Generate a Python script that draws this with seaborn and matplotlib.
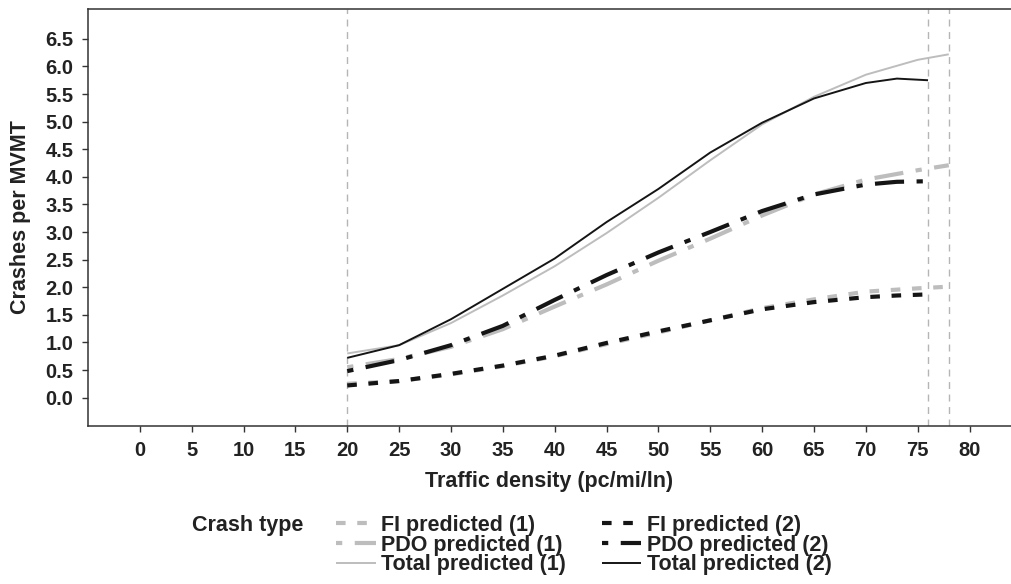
import numpy as np
import pandas as pd
import matplotlib
matplotlib.use('Agg')
import matplotlib.pyplot as plt
import seaborn as sns

sns.set_style('white')
plt.rcParams['font.family'] = ['Liberation Sans', 'DejaVu Sans']
plt.rcParams['font.weight'] = 'bold'

# ---- data -------------------------------------------------------------
x_1 = [20, 25, 30, 35, 40, 45, 50, 55, 60, 65, 70, 75, 78]
x_2 = [20, 25, 30, 35, 40, 45, 50, 55, 60, 65, 70, 73, 76]

fi_1 = [0.25, 0.30, 0.42, 0.57, 0.75, 0.97, 1.18, 1.40, 1.62, 1.78, 1.92, 1.98, 2.01]
pdo_1 = [0.55, 0.70, 0.92, 1.24, 1.65, 2.05, 2.48, 2.88, 3.30, 3.68, 3.95, 4.12, 4.21]
total_1 = [0.80, 0.95, 1.35, 1.85, 2.38, 2.98, 3.62, 4.30, 4.95, 5.45, 5.85, 6.12, 6.22]

fi_2 = [0.22, 0.30, 0.43, 0.58, 0.76, 0.99, 1.20, 1.40, 1.60, 1.73, 1.82, 1.85, 1.87]
pdo_2 = [0.48, 0.68, 0.95, 1.30, 1.77, 2.22, 2.63, 3.00, 3.38, 3.68, 3.86, 3.91, 3.92]
total_2 = [0.72, 0.95, 1.42, 1.97, 2.52, 3.18, 3.78, 4.44, 4.98, 5.42, 5.70, 5.78, 5.75]

vlines = [20, 76, 78]
x_ticks = list(range(0, 85, 5))
y_ticks = [i * 0.5 for i in range(14)]

GRAY = '#bdbdbd'
BLACK = '#151515'
FI_LS = (0, (2.3, 2.8))
PDO_LS = (0, (1.5, 3.0, 7.0, 3.0))

series = [
    ('FI predicted (1)', x_1, fi_1, GRAY, 3.0, FI_LS),
    ('PDO predicted (1)', x_1, pdo_1, GRAY, 3.0, PDO_LS),
    ('Total predicted (1)', x_1, total_1, GRAY, 1.4, '-'),
    ('FI predicted (2)', x_2, fi_2, BLACK, 3.0, FI_LS),
    ('PDO predicted (2)', x_2, pdo_2, BLACK, 3.0, PDO_LS),
    ('Total predicted (2)', x_2, total_2, BLACK, 1.4, '-'),
]

fig = plt.figure(figsize=(10.11, 5.84), dpi=100)
ax = fig.add_axes([0.087, 0.2705, 0.913, 0.714])

for xv in vlines:
    ax.axvline(xv, color='#b5b5b5', lw=1.0, ls=(0, (5, 4)), zorder=1)

for label, xs, ys, col, lw, ls in series:
    df = pd.DataFrame({'density': xs, 'rate': ys})
    sns.lineplot(data=df, x='density', y='rate', ax=ax, color=col, lw=lw,
                 linestyle=ls, label=label, estimator=None, legend=False,
                 solid_capstyle='butt', dash_capstyle='butt')

ax.set_xlim(-5, 84)
ax.set_ylim(-0.515, 7.04)
ax.set_xticks(x_ticks)
ax.set_yticks(y_ticks)
ax.set_yticklabels([f'{v:.1f}' for v in y_ticks])
ax.tick_params(axis='both', direction='out', length=4.5, width=1.0,
               color='#333333', labelsize=14.5, labelcolor='#222222', pad=6,
               left=True, bottom=True)
for side in ['left', 'bottom', 'top']:
    ax.spines[side].set_color('#333333')
    ax.spines[side].set_linewidth(1.1)
ax.spines['right'].set_visible(False)

ax.set_xlabel('Traffic density (pc/mi/ln)', fontsize=15.5, fontweight='bold',
              color='#222222', labelpad=8)
ax.set_ylabel('Crashes per MVMT', fontsize=15.5, fontweight='bold',
              color='#222222', labelpad=10)
if ax.get_legend() is not None:
    ax.get_legend().remove()

handles, labels = ax.get_legend_handles_labels()
fig.text(191.7 / 1011, 1 - 525 / 584, 'Crash type', fontsize=15.5,
         fontweight='bold', color='#222222', ha='left', va='center')
fig.legend(handles, labels, ncol=2, loc='center left',
           bbox_to_anchor=(336 / 1011, 1 - 545 / 584), frameon=False,
           fontsize=15.5, handlelength=1.85, handletextpad=0.25,
           columnspacing=1.65, labelspacing=-0.05, borderpad=0,
           borderaxespad=0, labelcolor='#222222')

fig.savefig('out.png', dpi=100)
